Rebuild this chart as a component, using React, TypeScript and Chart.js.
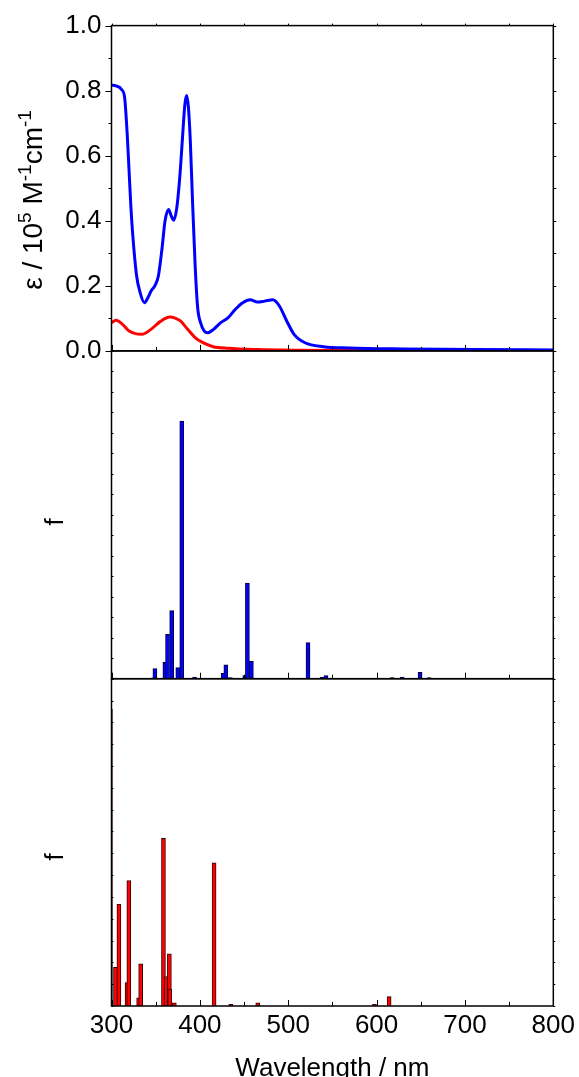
import React, { useEffect, useRef } from 'react';
import { Chart, registerables } from 'chart.js';

Chart.register(...registerables);

// ---- Data ----
const blueWl = [300, 305, 311.6, 314.9, 317.8, 319.9, 322, 324, 328.2, 332.4, 337.3, 340.7, 344.8, 349, 353.1, 357.3, 360.6, 364.7, 367.6, 370.5, 373.9, 377.2, 380.1, 383, 385.1, 387.1, 389.2, 391.7, 394.6, 397.5, 400.8, 405, 409.1, 415.4, 423.7, 432, 440.2, 448.5, 456.8, 465.1, 473.4, 482.6, 490, 498.3, 506.6, 519, 540, 569, 631, 714, 800];
const blueEps = [0.817, 0.815, 0.803, 0.778, 0.665, 0.553, 0.44, 0.358, 0.235, 0.179, 0.148, 0.161, 0.184, 0.2, 0.231, 0.318, 0.4, 0.435, 0.415, 0.402, 0.44, 0.532, 0.645, 0.757, 0.785, 0.747, 0.645, 0.46, 0.266, 0.133, 0.087, 0.061, 0.056, 0.066, 0.087, 0.102, 0.128, 0.148, 0.157, 0.15, 0.153, 0.157, 0.138, 0.092, 0.051, 0.025, 0.013, 0.009, 0.006, 0.004, 0.003];

const redWl = [300, 305, 311.6, 320, 327, 334.4, 345, 355, 366, 372, 378, 386, 394.6, 403, 415, 432, 465, 506.6, 590, 800];
const redEps = [0.087, 0.094, 0.084, 0.061, 0.053, 0.051, 0.067, 0.09, 0.104, 0.101, 0.092, 0.067, 0.041, 0.026, 0.013, 0.008, 0.004, 0.002, 0.001, 0.0];

const blueStickWl = [347.5, 349.1, 360.4, 363.4, 368.1, 375, 379.5, 394, 426.4, 429.4, 434.5, 450.8, 453.8, 458.3, 522.4, 538.2, 542.7, 617.6, 629, 649.2, 659.5];
const blueStickF = [0.004, 0.049, 0.081, 0.216, 0.332, 0.054, 1.258, 0.008, 0.026, 0.068, 0.005, 0.015, 0.467, 0.085, 0.176, 0.007, 0.015, 0.005, 0.008, 0.031, 0.005];

const redStickWl = [298.8, 304.5, 308.4, 317.6, 319.6, 330.7, 333, 358.8, 361.8, 365.5, 366, 371.1, 416.1, 435, 465.5, 597.6, 614.2];
const redStickF = [1.36, 0.177, 0.466, 0.107, 0.575, 0.037, 0.193, 0.768, 0.135, 0.239, 0.078, 0.015, 0.656, 0.008, 0.015, 0.008, 0.043];

const xTickLabels = [300, 400, 500, 600, 700, 800];
const epsTickLabels = [0, 0.2, 0.4, 0.6, 0.8, 1.0];

const FONT = '"Liberation Sans", Arial, Helvetica, sans-serif';

const framePlugin = {
  id: 'frame',
  afterDraw(chart: any) {
    const ctx = chart.ctx;
    const x = chart.scales.x;
    const yTop = chart.scales.yTop;
    const yMid = chart.scales.yMid;
    const yBot = chart.scales.yBot;
    const panels = [yTop, yMid, yBot];
    const L = x.left;
    const R = x.right;
    ctx.save();
    ctx.strokeStyle = '#000';
    ctx.lineWidth = 1.5;
    const line = (x1: number, y1: number, x2: number, y2: number) => {
      ctx.beginPath();
      ctx.moveTo(x1, y1);
      ctx.lineTo(x2, y2);
      ctx.stroke();
    };
    panels.forEach((s: any) => {
      ctx.strokeRect(L, s.top, R - L, s.bottom - s.top);
    });
    ctx.lineWidth = 1;
    // x ticks
    for (let w = 300; w <= 800; w += 50) {
      const px = Math.round(x.getPixelForValue(w)) + 0.5;
      const major = w % 100 === 0;
      line(px, yTop.top, px, yTop.top - 2);
      panels.forEach((s: any) => {
        line(px, s.bottom, px, s.bottom - (major ? 6 : 4));
      });
    }
    // top panel y ticks
    for (let i = 0; i <= 10; i++) {
      const v = i / 10;
      const py = Math.round(yTop.getPixelForValue(v)) + 0.5;
      const major = i % 2 === 0;
      line(L, py, L - (major ? 6 : 3), py);
      line(R, py, R + 3, py);
    }
    // middle panel
    for (let i = 0; i <= 16; i++) {
      const py = Math.round(yMid.getPixelForValue(i / 10)) + 0.5;
      line(L, py, L + 2, py);
      line(R, py, R + 2, py);
    }
    // bottom panel
    for (let i = 0; i <= 15; i++) {
      const py = Math.round(yBot.getPixelForValue(i / 10)) + 0.5;
      line(L, py, L + 2, py);
      line(R, py, R + 2, py);
    }

    // titles
    ctx.fillStyle = '#000';
    const rich = (parts: { t: string; size: number; dy: number }[], cx: number, cy: number) => {
      ctx.save();
      ctx.translate(cx, cy);
      ctx.rotate(-Math.PI / 2);
      ctx.textBaseline = 'alphabetic';
      ctx.textAlign = 'left';
      let total = 0;
      parts.forEach((p) => {
        ctx.font = `${p.size}px ${FONT}`;
        total += ctx.measureText(p.t).width;
      });
      let x0 = -total / 2;
      parts.forEach((p) => {
        ctx.font = `${p.size}px ${FONT}`;
        ctx.fillText(p.t, x0, p.dy);
        x0 += ctx.measureText(p.t).width;
      });
      ctx.restore();
    };
    rich(
      [
        { t: 'ε / 10', size: 28, dy: 0 },
        { t: '5', size: 19, dy: -11 },
        { t: ' M', size: 28, dy: 0 },
        { t: '-1', size: 19, dy: -11 },
        { t: 'cm', size: 28, dy: 0 },
        { t: '-1', size: 19, dy: -11 },
      ],
      42,
      200
    );
    rich([{ t: 'f', size: 26, dy: 0 }], 63, 522);
    rich([{ t: 'f', size: 26, dy: 0 }], 63, 857);

    ctx.font = `26px ${FONT}`;
    ctx.textAlign = 'center';
    ctx.textBaseline = 'alphabetic';
    ctx.fillText('Wavelength / nm', (L + R) / 2, 1076);
    ctx.restore();
  },
};

export default function App() {
  const ref = useRef<HTMLCanvasElement | null>(null);
  useEffect(() => {
    if (!ref.current) return;
    const toXY = (xs: number[], ys: number[]) => xs.map((v, i) => ({ x: v, y: ys[i] }));
    const chart = new Chart(ref.current, {
      type: 'line',
      data: {
        datasets: [
          {
            type: 'line',
            data: toXY(blueWl, blueEps),
            yAxisID: 'yTop',
            borderColor: '#0000ff',
            borderWidth: 3,
            pointRadius: 0,
            tension: 0.4,
            cubicInterpolationMode: 'monotone',
          } as any,
          {
            type: 'line',
            data: toXY(redWl, redEps),
            yAxisID: 'yTop',
            borderColor: '#ff0000',
            borderWidth: 3,
            pointRadius: 0,
            tension: 0.4,
            cubicInterpolationMode: 'monotone',
          } as any,
          {
            type: 'bar',
            data: toXY(blueStickWl, blueStickF),
            yAxisID: 'yMid',
            backgroundColor: '#0000ff',
            borderColor: '#000033',
            borderWidth: 1,
            barThickness: 4,
            grouped: false,
          } as any,
          {
            type: 'bar',
            data: toXY(redStickWl, redStickF),
            yAxisID: 'yBot',
            backgroundColor: '#ff0000',
            borderColor: '#330000',
            borderWidth: 1,
            barThickness: 4,
            grouped: false,
          } as any,
        ],
      },
      options: {
        animation: false,
        responsive: false,
        layout: { padding: { left: 0, right: 23, top: 25, bottom: 0 } },
        plugins: { legend: { display: false }, tooltip: { enabled: false } },
        scales: {
          x: {
            type: 'linear',
            position: 'bottom',
            min: 300,
            max: 800,
            offset: false,
            grid: { display: false, drawTicks: false },
            border: { display: false },
            afterBuildTicks: (s: any) => {
              s.ticks = xTickLabels.map((v) => ({ value: v }));
            },
            ticks: {
              font: { size: 26, family: FONT },
              color: '#000',
              padding: 4,
              maxRotation: 0,
              autoSkip: false,
              callback: (v: any) => String(v),
            },
            afterFit: (s: any) => {
              s.height = 71;
            },
          },
          yBot: {
            type: 'linear',
            position: 'left',
            stack: 'panels',
            stackWeight: 327.5,
            min: 0,
            max: 1.5,
            grid: { display: false, drawTicks: false },
            border: { display: false },
            ticks: { display: false },
            afterFit: (s: any) => {
              s.width = 111.5;
            },
          },
          yMid: {
            type: 'linear',
            position: 'left',
            stack: 'panels',
            stackWeight: 328,
            min: 0,
            max: 1.6,
            grid: { display: false, drawTicks: false },
            border: { display: false },
            ticks: { display: false },
            afterFit: (s: any) => {
              s.width = 111.5;
            },
          },
          yTop: {
            type: 'linear',
            position: 'left',
            stack: 'panels',
            stackWeight: 325.5,
            min: 0,
            max: 1,
            grid: { display: false, drawTicks: false },
            border: { display: false },
            afterBuildTicks: (s: any) => {
              s.ticks = epsTickLabels.map((v) => ({ value: v }));
            },
            ticks: {
              font: { size: 26, family: FONT },
              color: '#000',
              padding: 10,
              callback: (v: any) => Number(v).toFixed(1),
            },
            afterFit: (s: any) => {
              s.width = 111.5;
            },
          },
        },
      },
      plugins: [framePlugin],
    } as any);
    return () => chart.destroy();
  }, []);

  return (
    <div style={{ position: 'absolute', left: 0, top: 0, width: 579, height: 1077, background: '#fff' }}>
      <canvas ref={ref} width={579} height={1077} style={{ display: 'block' }} />
    </div>
  );
}
